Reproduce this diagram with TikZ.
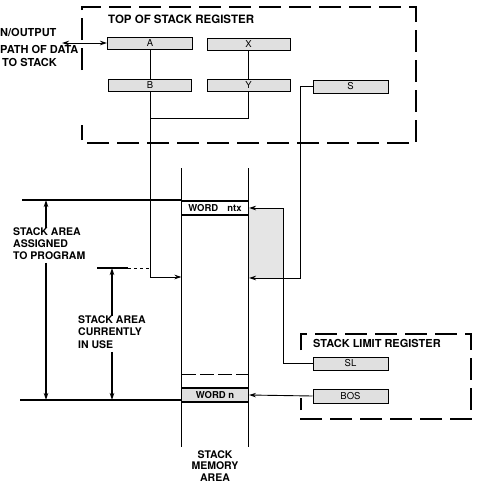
\documentclass[tikz,border=0pt]{standalone}
\usepackage{fontspec}
\setmainfont{TeX Gyre Heros}
\usetikzlibrary{arrows.meta}
\begin{document}
\begin{tikzpicture}[x=1pt,y=-1pt,
  lbl/.style={font=\fontsize{11}{12}\selectfont\bfseries, inner sep=0pt},
  reg/.style={draw, line width=1pt, fill=black!12, inner sep=0pt, font=\fontsize{9.5}{10}\selectfont},
  word/.style={draw, line width=1.1pt, inner sep=0pt, minimum width=67pt, minimum height=14pt, font=\fontsize{9.5}{10}\selectfont\bfseries},
  conn/.style={line width=0.8pt},
  tip/.tip={Stealth[length=7pt,width=4.5pt]},
  arr/.style={line width=0.9pt, -tip},
  regframe/.style={line width=1.6pt, dash pattern=on 22pt off 8pt},
  thinline/.style={line width=0.5pt},
  dimline/.style={line width=1.3pt},
]
\useasboundingbox (0,0) rectangle (479,485);

% shaded transfer area
\fill[black!10] (249,209) rectangle (284,278);

% register frames
\draw[regframe] (82,70) -- (82,7) -- (416,7) -- (416,143) -- (82,143) -- (82,125);
\draw[regframe] (301,350) -- (301,334) -- (471,334) -- (471,419) -- (301,419) -- (301,398);

\node[lbl, anchor=base west, font=\fontsize{11.5}{12}\selectfont\bfseries] (tostitle) at (108,23) {TOP OF STACK REGISTER};
\node[lbl, anchor=base west] (sltitle) at (313,347) {STACK LIMIT REGISTER};

% registers
\node[reg, minimum width=85pt, minimum height=12pt] (A) at (150,43) {A};
\node[reg, minimum width=83pt, minimum height=12pt] (X) at (248.5,44) {X};
\node[reg, minimum width=83pt, minimum height=12pt] (B) at (150,85) {B};
\node[reg, minimum width=83pt, minimum height=12pt] (Y) at (248.5,85) {Y};
\node[reg, minimum width=75pt, minimum height=13pt] (S) at (350.5,86.5) {S};
\node[reg, minimum width=75pt, minimum height=13pt] (SL) at (350.5,363.5) {SL};
\node[reg, minimum width=75pt, minimum height=14pt] (BOS) at (350.5,396) {BOS};

% stack memory column
\coordinate (mTL) at (181.5,168);
\coordinate (mBL) at (181.5,447);
\coordinate (mTR) at (248.5,168);
\coordinate (mBR) at (248.5,447);
\draw[thinline] (mTL) -- (mBL);
\draw[thinline] (mTR) -- (mBR);
\draw[thinline, dash pattern=on 14pt off 4pt] (182,374) -- (248,374);
\node[word, fill=white] (wntx) at (215,208) {WORD\hspace{9pt}ntx};
\node[word, fill=black!12] (wn) at (215,395) {WORD n};
\node[lbl, align=center, anchor=north, font=\fontsize{10.5}{11.5}\selectfont\bfseries] (smem) at (215,450.5) {STACK\\MEMORY\\AREA};

% input/output path
\node[lbl, anchor=base west] (io1) at (0,36) {N/OUTPUT};
\node[lbl, anchor=base west] (io2) at (0,53) {PATH OF DATA};
\node[lbl, anchor=base west] (io3) at (2,66) {TO STACK};
\coordinate (io) at (62,43);
\draw[line width=1pt, tip-tip] (io) -- (A.west);

% register interconnections
\coordinate (j) at (150,118);
\coordinate (inA) at (181.5,277);
\coordinate (inS) at (249,278);
\draw[conn] (A.south) -- (B.north);
\draw[conn] (X.south) -- (Y.north);
\draw[conn] (B.south) -- (j) -| (Y.south);
\draw[arr] (j) |- (inA);
\draw[arr] (S.west) -- ++(-12,0) |- (inS);
\draw[arr] (SL.west) -- ++(-29,0) |- (wntx.east);
\draw[arr] (BOS.west) -- (wn.east);

% dimension annotations
\coordinate (topL) at (22,200);
\coordinate (botL) at (20,400);
\coordinate (useL) at (97,268);
\coordinate (useM) at (128,268);
\coordinate (useR) at (150,268);
\draw[dimline] (topL) -- (topL -| mTL);
\draw[dimline] (botL) -- (botL -| mBL);
\draw[dimline] (useL) -- (useM);
\draw[thinline, dashed] (useM) -- (useR);

\node[lbl, align=left, anchor=north west, font=\fontsize{10.5}{12}\selectfont\bfseries] (assigned) at (13,227.5) {STACK AREA\\ASSIGNED\\TO PROGRAM};
\node[lbl, align=left, anchor=north west, font=\fontsize{10.5}{12.5}\selectfont\bfseries] (inuse) at (78,315.5) {STACK AREA\\CURRENTLY\\IN USE};

\coordinate (ax) at (46,0);
\coordinate (ux) at (112,0);
\draw[arr, line width=1.3pt] (assigned.north -| ax) -- (topL -| ax);
\draw[arr, line width=1.3pt] (assigned.south -| ax) ++(0,3) -- (botL -| ax);
\draw[arr, line width=1.1pt] (inuse.north -| ux) -- (useL -| ux);
\draw[arr, line width=1.1pt] (inuse.south -| ux) ++(0,3) -- (botL -| ux);
\end{tikzpicture}
\end{document}
